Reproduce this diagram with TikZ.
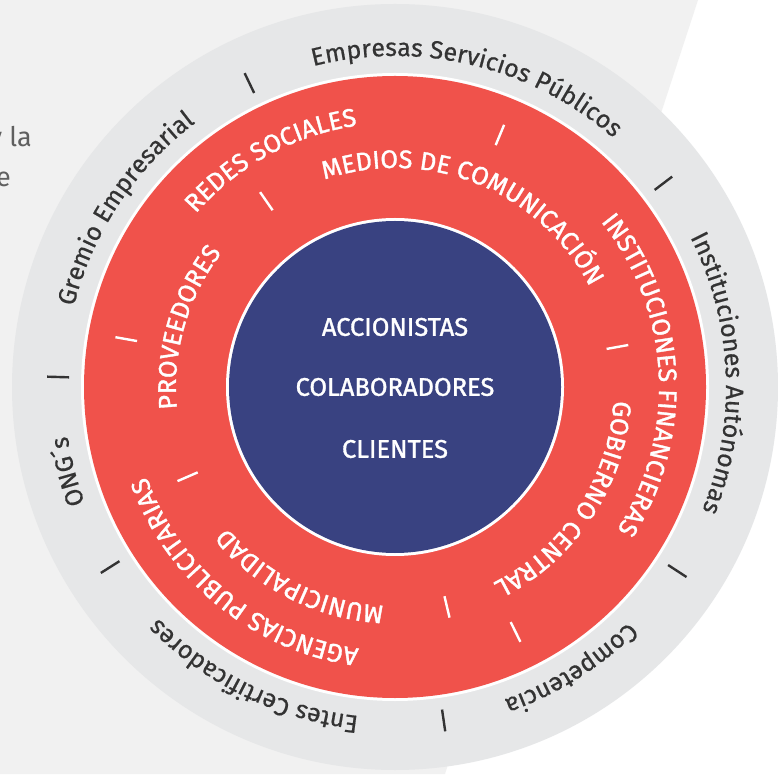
\documentclass[tikz,border=0pt]{standalone}
\usepackage{fontspec}
\setmainfont{Fira Sans}
\newfontfamily\outerface[FakeBold=0.6]{Fira Sans}
\newfontfamily\whiteface[FakeBold=1.3]{Fira Sans}
\usetikzlibrary{decorations.text}
\definecolor{bgpage}{HTML}{F1F1F1}
\definecolor{ringgray}{HTML}{E6E7E8}
\definecolor{ringred}{HTML}{F0524B}
\definecolor{coreblue}{HTML}{394281}
\definecolor{darktext}{HTML}{333333}
\definecolor{paratext}{HTML}{5F5F5F}
\newcommand\ringlabel[4]{%
  \path[decorate,decoration={text along path,text align=center,text={|#3|#4}}]
    (#1+90:#2) arc[start angle=#1+90,end angle=#1-90,radius=#2];}
\newcommand\outerfmt{\outerface\fontsize{25}{29}\selectfont\color{darktext}}
\newcommand\redfmt{\whiteface\fontsize{25.5}{29}\selectfont\color{white}}
\begin{document}
\begin{tikzpicture}[x=1pt,y=1pt,
  darktick/.style={draw=darktext,line width=2.4pt},
  whitetick/.style={draw=white,line width=2.4pt},
  coretext/.style={text=white,font=\whiteface\fontsize{25.5}{29}\selectfont,inner sep=0pt},
  paranode/.style={text=paratext,font=\fontsize{27}{31}\selectfont,inner sep=0pt,anchor=base east}]
\useasboundingbox (0,0) rectangle (778,774);
\fill[white] (0,0) rectangle (778,774);
\fill[bgpage] (0,0) -- (445,0) -- (698,774) -- (0,774) -- cycle;
\node[paranode] (p1) at (32,627) {y la};
\node[paranode] (p2) at (11,587) {e};
\begin{scope}[shift={(395,387)}]
  \fill[ringgray] (0,0) circle[radius=383];
  \fill[white] (0,0) circle[radius=314];
  \fill[ringred] (0,0) circle[radius=311];
  \fill[white] (0,0) circle[radius=169];
  \fill[coreblue] (0,0) circle[radius=166];
  % separators
  \foreach \a in {115.6,37.2,-33.1,-81.7,212.3,178.3}
    \draw[darktick] (\a:326) -- (\a:348);
  \foreach \a in {67.4,169.9,-63.8}
    \draw[whitetick] (\a:262) -- (\a:284);
  \foreach \a in {124.7,203.4,-76.7,10.2}
    \draw[whitetick] (\a:215) -- (\a:237);
  % outer ring labels
  \ringlabel{76.5}{331}{\outerfmt}{Empresas Servicios Públicos}
  \ringlabel{2.5}{331}{\outerfmt}{Instituciones Autónomas}
  \ringlabel{-58}{331}{\outerfmt}{Competencia}
  \ringlabel{-116}{331}{\outerfmt}{Entes Certificadores}
  \ringlabel{194.5}{331}{\outerfmt}{ONG´s}
  \ringlabel{146.5}{331}{\outerfmt}{Gremio Empresarial}
  % red outer track
  \ringlabel{118.6}{264}{\redfmt}{REDES SOCIALES}
  \ringlabel{3}{264}{\redfmt}{INSTITUCIONES FINANCIERAS}
  \ringlabel{231}{264}{\redfmt}{AGENCIAS PUBLICITARIAS}
  % red inner track
  \ringlabel{68}{219}{\redfmt}{MEDIOS DE COMUNICACIÓN}
  \ringlabel{-33.5}{219}{\redfmt}{GOBIERNO CENTRAL}
  \ringlabel{243.5}{219}{\redfmt}{MUNICIPALIDAD}
  \ringlabel{164}{219}{\redfmt}{PROVEEDORES}
  % core
  \node[coretext] (acc) at (0,60) {ACCIONISTAS};
  \node[coretext] (col) at (0,0) {COLABORADORES};
  \node[coretext] (cli) at (0,-62) {CLIENTES};
\end{scope}
\end{tikzpicture}
\end{document}
